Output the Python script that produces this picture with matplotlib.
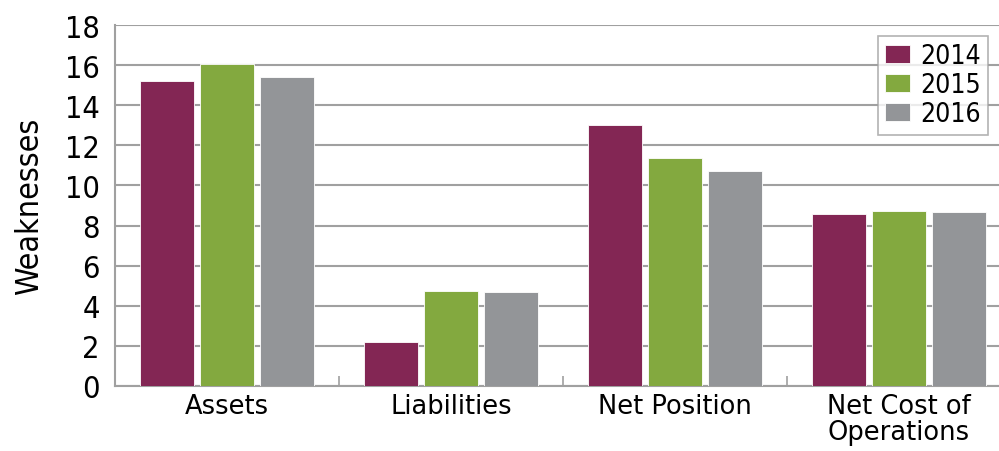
import numpy as np
import matplotlib.pyplot as plt

categories = ['Assets', 'Liabilities', 'Net Position', 'Net Cost of\nOperations']
years = ['2014', '2015', '2016']
v2014 = [15.2, 2.2, 13.0, 8.57]
v2015 = [16.05, 4.75, 11.35, 8.72]
v2016 = [15.4, 4.7, 10.7, 8.7]
colors = ['#832654', '#83a93f', '#939598']

plt.rcParams['font.family'] = ['DejaVu Sans']
plt.rcParams['font.stretch'] = 'condensed'

fig = plt.figure(figsize=(9.99, 4.52), dpi=100)
ax = fig.add_axes([115 / 999, 65 / 452, 896 / 999, 361 / 452])

x = np.arange(len(categories))
w = 0.241
step = 0.268
for i, (vals, yr) in enumerate(zip([v2014, v2015, v2016], years)):
    ax.bar(x + (i - 1) * step, vals, w, color=colors[i], label=yr,
           edgecolor='white', linewidth=0.6, zorder=3)

ax.set_xlim(-0.5, len(categories) - 0.5)
ax.set_ylim(0, 18)
ax.set_yticks(range(0, 19, 2))
ax.yaxis.grid(True, color='#a0a0a0', linewidth=1.5, zorder=0)
ax.tick_params(axis='y', length=0, labelsize=22, pad=11)

ax.set_xticks(x[:-1] + 0.5)
ax.set_xticklabels([])
ax.tick_params(axis='x', which='major', direction='in', length=7, width=1.2, color='#a0a0a0')
ax.set_xticks(x, minor=True)
ax.set_xticklabels(categories, minor=True, fontsize=18.5, linespacing=1.0,
                   fontstretch='normal')
ax.tick_params(axis='x', which='minor', length=0, pad=5)

for s in ['top', 'right']:
    ax.spines[s].set_visible(False)
for s in ['left', 'bottom']:
    ax.spines[s].set_color('#a0a0a0')
    ax.spines[s].set_linewidth(1.5)

ax.set_ylabel('Weaknesses', fontsize=23, labelpad=14)

leg = ax.legend(loc='upper right', fontsize=19, frameon=True, fancybox=False,
                edgecolor='#a0a0a0', handlelength=0.95, handleheight=0.65,
                handletextpad=0.4, labelspacing=0.12, borderpad=0.27,
                borderaxespad=0)
leg.get_frame().set_linewidth(1.2)
leg.set_bbox_to_anchor((988 / 999, 415 / 452), transform=fig.transFigure)

fig.savefig('out.png', dpi=100)
